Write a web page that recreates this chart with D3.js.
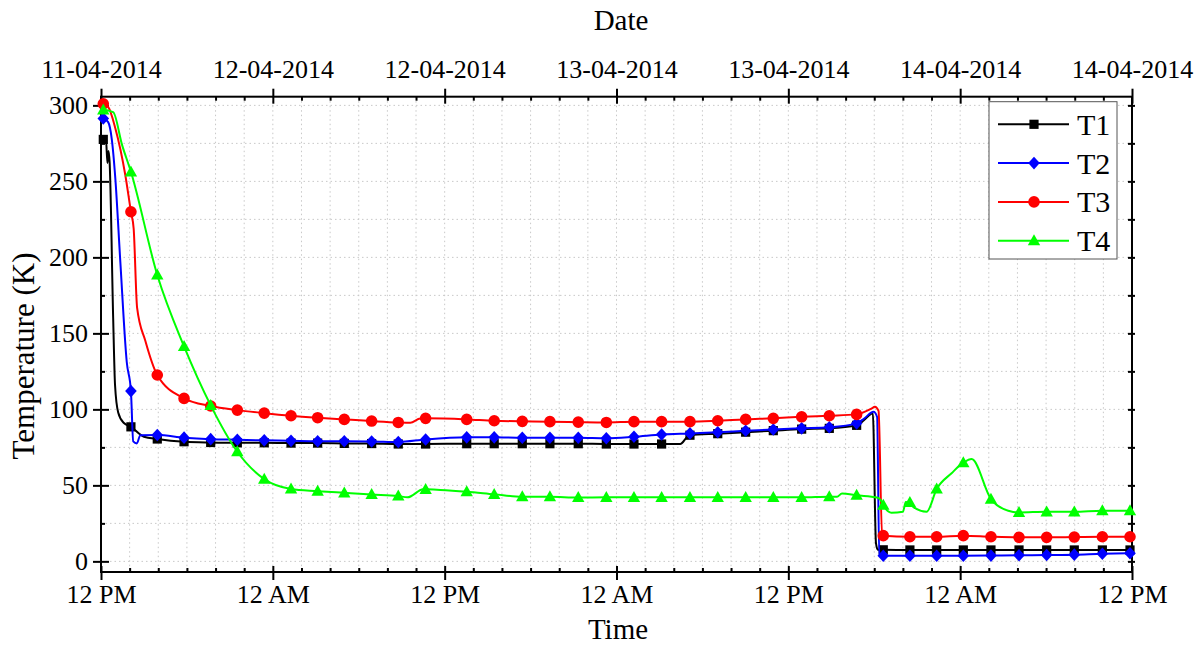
<!DOCTYPE html>
<html>
<head>
<meta charset="utf-8">
<script src="https://cdn.jsdelivr.net/npm/d3@7"></script>
<style>
  body { margin: 0; background: #fff; }
  text { font-family: "Liberation Serif", "Times New Roman", serif; fill: #000; }
</style>
</head>
<body>
<div id="chart"></div>
<script>
// Axis labels
const majorHours = [0, 12, 24, 36, 48, 60, 72];
const timeLabels = ["12 PM", "12 AM", "12 PM", "12 AM", "12 PM", "12 AM", "12 PM"];
const dateLabels = ["11-04-2014", "12-04-2014", "12-04-2014", "13-04-2014", "13-04-2014", "14-04-2014", "14-04-2014"];
const yTicks = [0, 50, 100, 150, 200, 250, 300];

const seriesNames = ["T1", "T2", "T3", "T4"];
const colors = ["#000000", "#0000ff", "#ff0000", "#00ff00"];
const shapes = ["square", "diamond", "circle", "triangle"];

// Hours (from 12 PM 11-04) at which markers are shown
const markerHours = [0.16, 2.09, 3.93, 5.80, 7.66, 9.52, 11.40, 13.27, 15.13, 16.99, 18.90, 20.76, 22.67,
  25.54, 27.46, 29.42, 31.35, 33.33, 35.29, 37.22, 39.15, 41.13, 43.07, 45.02, 46.95, 48.93, 50.86, 52.77,
  54.63, 56.49, 58.36, 60.22, 62.15, 64.11, 66.04, 67.97, 69.93, 71.86];

// Temperatures (K) at the marker hours
const t1 = [277.6, 88.5, 80.5, 78.7, 78.2, 78, 78, 77.8, 77.8, 77.6, 77.5, 77.2, 77.2,
  77.4, 77.4, 77.4, 77.4, 77.4, 77.2, 77.2, 77.2, 83, 84, 85, 86, 87, 87.5, 89.5,
  7.6, 7.5, 7.5, 7.5, 7.5, 7.5, 7.5, 7.5, 7.5, 7.5];
const t2 = [291.4, 112, 83.1, 81.4, 80.4, 80, 79.6, 79.3, 79, 79, 78.9, 78.5, 80.2,
  81.6, 81.6, 81.3, 81.3, 81.3, 81, 82, 83.5, 84.2, 84.9, 85.9, 86.8, 87.5, 88.2, 90.8,
  3.7, 3.7, 3.7, 3.7, 3.8, 4.0, 4.2, 4.4, 5.0, 5.3];
const t3 = [301, 230, 122.6, 107.2, 102.2, 99.5, 97.5, 95.8, 94.5, 93.4, 92.3, 91.4, 94.1,
  93.4, 92.5, 92.1, 91.9, 91.6, 91.4, 91.9, 91.9, 91.9, 92.5, 93.4, 94.1, 95.1, 95.8, 96.7,
  16.9, 16.2, 16.2, 16.9, 16.2, 15.8, 15.8, 16, 16.2, 16.2];
const t4 = [297, 256.3, 188.4, 141.4, 102.6, 72.1, 54.1, 47.6, 46.2, 45.1, 44, 43, 47.4,
  45.8, 44.1, 42.5, 42.5, 42, 42.1, 42.1, 42.1, 42.1, 42.1, 42.1, 42.1, 42.1, 42.5, 43.5,
  37, 38.8, 47.6, 64.9, 41, 32.2, 32.6, 32.6, 33.3, 33.3];

// Extra readings between markers [hour, K]
const t1Extra = [[0, 278], [0.35, 277], [0.45, 262], [0.52, 270], [0.6, 263], [0.85, 160], [0.98, 116],
  [1.2, 98], [1.6, 91], [3.0, 82], [40.45, 77.2], [40.95, 82], [53.3, 93], [53.9, 97.4], [54.12, 12], [54.25, 7.6]];
const t2Extra = [[0, 292], [0.5, 289], [0.75, 278], [1.0, 252], [1.35, 197], [1.8, 131], [2.25, 79],
  [2.5, 77.6], [2.75, 83], [53.3, 94], [53.95, 98.4], [54.2, 95], [54.35, 4]];
const t3Extra = [[0, 300], [0.06, 302], [0.5, 299], [1.0, 285], [1.7, 254], [2.28, 219], [2.52, 167],
  [3.1, 145], [21.6, 91.2], [22.3, 94], [53.8, 100.5], [54.05, 101.7], [54.3, 99], [54.55, 17]];
const t4Extra = [[0, 296], [0.85, 295.5], [1.47, 274], [21.4, 42.1], [22.5, 47.4], [23.7, 47],
  [51.4, 42.5], [51.75, 44.7], [54.2, 42], [54.45, 40.3], [55.2, 32], [56.0, 32.6], [56.2, 39],
  [56.7, 36], [57.66, 32.6], [59.4, 58], [60.8, 67.3], [63.36, 33.3]];

const values = [t1, t2, t3, t4];
const extras = [t1Extra, t2Extra, t3Extra, t4Extra];

const width = 1200, height = 646;
const plot = { left: 101, right: 1132, top: 96.7, bottom: 572 };

const svg = d3.select("#chart").append("svg")
  .attr("width", width)
  .attr("height", height);

const x = d3.scaleLinear().domain([0, 72]).range([plot.left, plot.right]);
const y = d3.scaleLinear().domain([-7, 305.7]).range([plot.bottom, plot.top]);

// Grid (dotted, at major and minor steps)
const grid = svg.append("g").attr("stroke", "#c8c8c8").attr("stroke-width", 1).attr("stroke-dasharray", "1.5,3");
grid.selectAll(".vg").data(d3.range(2, 72, 2)).enter().append("line")
  .attr("x1", d => x(d)).attr("x2", d => x(d))
  .attr("y1", plot.top).attr("y2", plot.bottom);
grid.selectAll(".hg").data(d3.range(0, 301, 25)).enter().append("line")
  .attr("x1", plot.left).attr("x2", plot.right)
  .attr("y1", d => y(d)).attr("y2", d => y(d));

function styleAxis(g) {
  g.select(".domain").remove();
  g.selectAll(".tick line").attr("stroke", "#000").attr("stroke-width", 2);
  g.selectAll(".tick text").style("font-size", "26px").style("font-family", "Liberation Serif");
}

const minorHours = d3.range(2, 72, 2).filter(d => d % 12 !== 0);
const minorY = [25, 75, 125, 175, 225, 275];

// Bottom axis
svg.append("g").attr("transform", `translate(0,${plot.bottom})`)
  .call(d3.axisBottom(x).tickValues(majorHours).tickFormat((d, i) => timeLabels[i]).tickSize(8).tickPadding(5))
  .call(styleAxis)
  .call(g => g.selectAll(".tick line").attr("y1", -6));
svg.append("g").attr("transform", `translate(0,${plot.bottom})`)
  .call(d3.axisBottom(x).tickValues(minorHours).tickFormat("").tickSize(-4))
  .call(styleAxis);

// Top axis
svg.append("g").attr("transform", `translate(0,${plot.top})`)
  .call(d3.axisTop(x).tickValues(majorHours).tickFormat((d, i) => dateLabels[i]).tickSize(8).tickPadding(11))
  .call(styleAxis)
  .call(g => g.selectAll(".tick line").attr("y1", 7));
svg.append("g").attr("transform", `translate(0,${plot.top})`)
  .call(d3.axisTop(x).tickValues(minorHours).tickFormat("").tickSize(-4))
  .call(styleAxis);

// Left axis
svg.append("g").attr("transform", `translate(${plot.left},0)`)
  .call(d3.axisLeft(y).tickValues(yTicks).tickSize(8).tickPadding(5))
  .call(styleAxis)
  .call(g => g.selectAll(".tick line").attr("x1", 8));
svg.append("g").attr("transform", `translate(${plot.left},0)`)
  .call(d3.axisLeft(y).tickValues(minorY).tickFormat("").tickSize(-4))
  .call(styleAxis);

// Right axis
svg.append("g").attr("transform", `translate(${plot.right},0)`)
  .call(d3.axisRight(y).tickValues(d3.range(0, 301, 25)).tickFormat("").tickSize(3))
  .call(styleAxis)
  .call(g => g.selectAll(".tick line").attr("x1", -4));

// Frame
svg.append("rect")
  .attr("x", plot.left).attr("y", plot.top)
  .attr("width", plot.right - plot.left).attr("height", plot.bottom - plot.top)
  .attr("fill", "none").attr("stroke", "#000").attr("stroke-width", 2);

// Marker shapes
function markerPath(shape) {
  if (shape === "square") return "M-4.6,-4.6H4.6V4.6H-4.6Z";
  if (shape === "diamond") return "M0,-6.3L5.8,0L0,6.3L-5.8,0Z";
  if (shape === "circle") return "M5.8,0A5.8,5.8 0 1,1 -5.8,0A5.8,5.8 0 1,1 5.8,0Z";
  return "M0,-6.4L6.2,4.6H-6.2Z";
}

const line = d3.line()
  .x(d => x(d[0]))
  .y(d => y(d[1]))
  .curve(d3.curveMonotoneX);

const series = seriesNames.map((name, i) => {
  const marks = markerHours.map((h, j) => [h, values[i][j]]);
  const pts = marks.concat(extras[i]).sort((a, b) => a[0] - b[0]);
  return { name, color: colors[i], shape: shapes[i], marks, pts };
});

const layer = svg.append("g");
series.forEach(s => {
  const g = layer.append("g");
  g.append("path")
    .datum(s.pts)
    .attr("d", line)
    .attr("fill", "none")
    .attr("stroke", s.color)
    .attr("stroke-width", 2)
    .attr("stroke-linejoin", "round");
  g.selectAll(".mk")
    .data(s.marks)
    .enter()
    .append("path")
    .attr("d", markerPath(s.shape))
    .attr("transform", d => `translate(${x(d[0])},${y(d[1])})`)
    .attr("fill", s.color);
});

// Legend
const legend = svg.append("g");
legend.append("rect")
  .attr("x", 989).attr("y", 101.7)
  .attr("width", 128).attr("height", 157.3)
  .attr("fill", "#fff").attr("stroke", "#555").attr("stroke-width", 1);
const legendY = d3.scalePoint().domain(seriesNames).range([124.3, 240.7]);
series.forEach(s => {
  const ly = legendY(s.name);
  legend.append("line")
    .attr("x1", 998).attr("x2", 1069).attr("y1", ly).attr("y2", ly)
    .attr("stroke", s.color).attr("stroke-width", 2);
  legend.append("path")
    .attr("d", markerPath(s.shape))
    .attr("transform", `translate(1034,${ly})`)
    .attr("fill", s.color);
  legend.append("text")
    .attr("x", 1077).attr("y", ly + 10.5)
    .style("font-size", "30px")
    .text(s.name);
});

// Axis titles
svg.append("text")
  .attr("x", 621).attr("y", 30)
  .attr("text-anchor", "middle").style("font-size", "29px")
  .text("Date");
svg.append("text")
  .attr("x", 618).attr("y", 639)
  .attr("text-anchor", "middle").style("font-size", "29px")
  .text("Time");
svg.append("text")
  .attr("transform", "translate(34,356) rotate(-90)")
  .attr("text-anchor", "middle").style("font-size", "31px")
  .text("Temperature (K)");
</script>
</body>
</html>
